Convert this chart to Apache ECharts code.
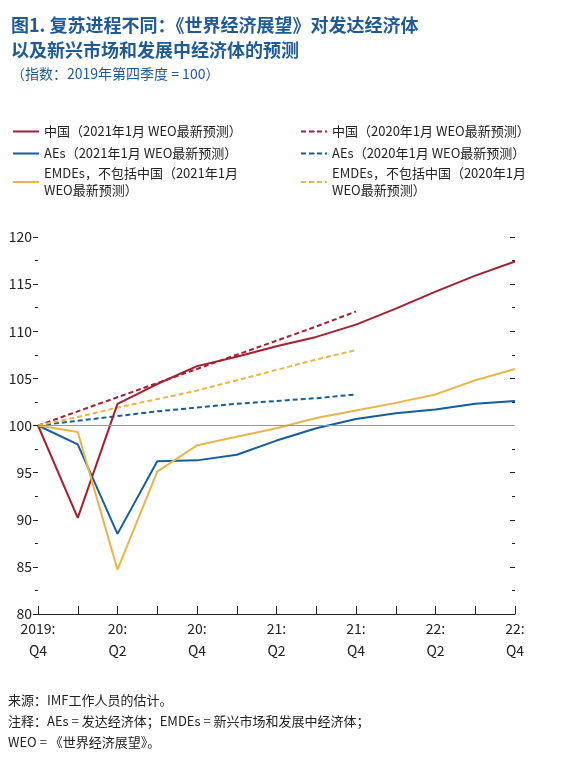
<!DOCTYPE html>
<html><head><meta charset="utf-8">
<script src="https://cdn.jsdelivr.net/npm/echarts@6/dist/echarts.min.js"></script>
<style>body{margin:0;background:#fff}#c{width:583px;height:763px}</style>
</head><body><div id="c"></div>
<script>
// quarters 2019Q4 .. 2022Q4
var quarters = ['2019:\nQ4','','20:\nQ2','','20:\nQ4','','21:\nQ2','','21:\nQ4','','22:\nQ2','','22:\nQ4'];
var china21 = [100, 90.2, 102.3, 104.4, 106.3, 107.3, 108.4, 109.4, 110.7, 112.4, 114.2, 115.9, 117.4];
var china20 = [100, 101.5, 103, 104.5, 106, 107.5, 109, 110.5, 112.1];
var aes21   = [100, 98, 88.5, 96.2, 96.3, 96.9, 98.4, 99.7, 100.7, 101.3, 101.7, 102.3, 102.6];
var aes20   = [100, 100.5, 101, 101.5, 101.9, 102.3, 102.6, 102.9, 103.3];
var emde21  = [100, 99.3, 84.7, 95.1, 97.9, 98.8, 99.7, 100.8, 101.6, 102.4, 103.3, 104.8, 106];
var emde20  = [100, 100.9, 101.9, 102.8, 103.7, 104.8, 105.9, 107, 108];

var RED = '#a3202f', BLUE = '#155d9c', GOLD = '#e8b54b';
var font = '"Noto Sans CJK SC", "Liberation Serif", serif';

var names = ['中国（2021年1月 WEO最新预测）', 'AEs（2021年1月 WEO最新预测）', 'EMDEs，不包括中国（2021年1月\nWEO最新预测）',
             '中国（2020年1月 WEO最新预测）', 'AEs（2020年1月 WEO最新预测）', 'EMDEs，不包括中国（2020年1月\nWEO最新预测）'];
var datas = [china21, aes21, emde21, china20, aes20, emde20];
var colors = [RED, BLUE, GOLD, RED, BLUE, GOLD];

var legendPos = [[8,118],[8,140],[8,160],[295,118],[295,140],[295,160]];

var series = names.map(function(n, i){
  return {
    name: n, type: 'line', data: datas[i], symbol: 'none', z: i < 3 ? 3 : 2,
    lineStyle: {color: colors[i], width: 2, type: i < 3 ? 'solid' : [5, 3]},
    itemStyle: {color: colors[i]}
  };
});
series[0].markLine = {
  silent: true, symbol: 'none', label: {show: false},
  lineStyle: {color: '#999', width: 1, type: 'solid'},
  data: [{yAxis: 100}]
};

var chart = echarts.init(document.getElementById('c'));
chart.setOption({
  animation: false,
  title: {
    text: '图1. 复苏进程不同：《世界经济展望》对发达经济体\n以及新兴市场和发展中经济体的预测',
    subtext: '（指数：2019年第四季度 = 100）',
    left: 6, top: 8, itemGap: 4,
    textStyle: {fontFamily: font, fontSize: 18, fontWeight: 'bold', color: '#1f5a96', lineHeight: 25},
    subtextStyle: {fontFamily: font, fontSize: 14, color: '#1f5a96'}
  },
  legend: names.map(function(n, i){
    return {
      data: [n], left: legendPos[i][0], top: legendPos[i][1],
      itemWidth: 26, itemHeight: 2, itemGap: 4, icon: i < 3 ? 'rect' : undefined,
      textStyle: {fontFamily: font, fontSize: 13, color: '#222', lineHeight: 17}
    };
  }),
  grid: {left: 38, right: 68, top: 237, bottom: 149},
  xAxis: {
    type: 'category', data: quarters, boundaryGap: false,
    axisLine: {lineStyle: {color: '#222'}},
    axisTick: {inside: true, interval: 0, length: 8, lineStyle: {color: '#222'}},
    axisLabel: {interval: 0, color: '#222', fontFamily: font, fontSize: 14, lineHeight: 22, margin: 4}
  },
  yAxis: [{
    type: 'value', min: 80, max: 120, interval: 5,
    splitLine: {show: false},
    axisLine: {show: false},
    axisTick: {show: true, length: 5, lineStyle: {color: '#222'}},
    minorTick: {show: true, splitNumber: 2, length: 3, lineStyle: {color: '#222'}},
    axisLabel: {color: '#222', fontFamily: font, fontSize: 14, margin: 6}
  }, {
    type: 'value', min: 80, max: 120, interval: 5, position: 'right',
    splitLine: {show: false},
    axisLine: {show: false},
    axisTick: {show: true, inside: true, length: 5, lineStyle: {color: '#222'}},
    minorTick: {show: true, splitNumber: 2, length: 3, lineStyle: {color: '#222'}},
    axisLabel: {show: false}
  }],
  series: series,
  graphic: [{
    type: 'text', left: 8, top: 690,
    style: {text: '来源：IMF工作人员的估计。\n注释：AEs = 发达经济体；EMDEs = 新兴市场和发展中经济体；\nWEO = 《世界经济展望》。',
      font: '13px ' + font, fill: '#222', lineHeight: 21}
  }]
});
</script></body></html>
